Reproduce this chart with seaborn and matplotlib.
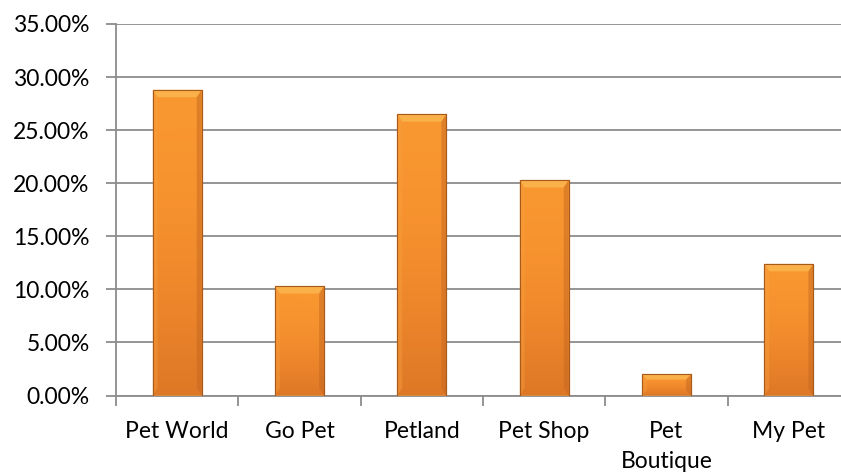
import numpy as np
import pandas as pd
import matplotlib
matplotlib.use("Agg")
import matplotlib.pyplot as plt
import seaborn as sns
from matplotlib.ticker import FuncFormatter, MultipleLocator, FixedLocator
from matplotlib.colors import LinearSegmentedColormap

categories = ["Pet World", "Go Pet", "Petland", "Pet Shop", "Pet\nBoutique", "My Pet"]
shares = [28.8, 10.3, 26.5, 20.3, 2.0, 12.4]

df = pd.DataFrame({"store": categories, "share": shares})

sns.set_theme(style="white")
plt.rcParams["font.family"] = ["Lato", "DejaVu Sans"]

fig = plt.figure(figsize=(8.41, 4.75), dpi=100)
W, H = 841, 475
left_px, right_px, top_px, bottom_px = 116, 850, 24, 395.5
ax = fig.add_axes([left_px / W, (H - bottom_px) / H,
                   (right_px - left_px) / W, (bottom_px - top_px) / H])

sns.barplot(data=df, x="store", y="share", ax=ax, color="#F39130",
            width=0.4, edgecolor="#A85A1A", linewidth=0.8, zorder=3)

# gradient fill + bevel for each bar
cmap = LinearSegmentedColormap.from_list(
    "orng", ["#DE7826", "#EE872B", "#F7932F", "#F9982F"])
for p in ax.patches:
    x0, y0 = p.get_x(), p.get_y()
    w, h = p.get_width(), p.get_height()
    grad = np.linspace(0, 1, 256).reshape(-1, 1)
    im = ax.imshow(grad, extent=[x0, x0 + w, y0, y0 + h], origin="lower",
                   cmap=cmap, aspect="auto", zorder=3.5)
    im.set_clip_path(p)
    bev = min(0.7, h * 0.25)
    dx = 0.04
    # top bevel highlight
    ax.fill([x0, x0 + w, x0 + w - dx, x0 + dx],
            [y0 + h, y0 + h, y0 + h - bev, y0 + h - bev],
            color="#FBB851", alpha=0.8, zorder=3.6, lw=0)
    # side shading
    ax.fill([x0 + w, x0 + w, x0 + w - dx, x0 + w - dx],
            [y0, y0 + h, y0 + h - bev, y0 + bev],
            color="#C06420", alpha=0.45, zorder=3.6, lw=0)
    ax.fill([x0, x0, x0 + dx, x0 + dx],
            [y0, y0 + h, y0 + h - bev, y0 + bev],
            color="#F7A040", alpha=0.4, zorder=3.6, lw=0)
    ax.add_patch(plt.Rectangle((x0, y0), w, h, fill=False,
                               edgecolor="#A85A1A", lw=0.8, zorder=3.7))

ax.set_xlim(-0.5, len(categories) - 0.5)
ax.set_ylim(0, 35)
ax.yaxis.set_major_locator(MultipleLocator(5))
ax.yaxis.set_major_formatter(FuncFormatter(lambda v, _: f"{v:.2f}%"))
ax.grid(axis="y", color="#8C8C8C", linewidth=1.3, zorder=0)
ax.grid(axis="x", visible=False)

for s in ["top", "right"]:
    ax.spines[s].set_visible(False)
for s in ["left", "bottom"]:
    ax.spines[s].set_color("#8C8C8C")
    ax.spines[s].set_linewidth(1.3)

ax.set_xlabel("")
ax.set_ylabel("")
ax.tick_params(axis="y", which="major", length=7, width=1.3, color="#8C8C8C",
               pad=12, labelsize=16.5, labelcolor="black", direction="out", left=True)
ax.tick_params(axis="x", which="major", length=0, pad=18, labelsize=16.5,
               labelcolor="black")
ax.xaxis.set_minor_locator(FixedLocator(np.arange(-0.5, len(categories), 1.0)))
ax.tick_params(axis="x", which="minor", length=7, width=1.3, color="#8C8C8C",
               direction="out", bottom=True)
for lbl in ax.get_xticklabels():
    lbl.set_linespacing(1.55)

fig.savefig("out.png", dpi=100)
